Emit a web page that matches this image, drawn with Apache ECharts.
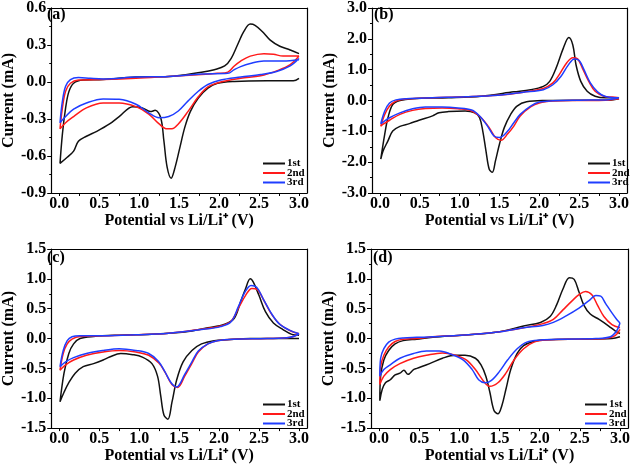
<!DOCTYPE html>
<html><head><meta charset="utf-8">
<script src="https://cdn.jsdelivr.net/npm/echarts@6/dist/echarts.min.js"></script>
<style>html,body{margin:0;padding:0;background:#fff}#c{width:638px;height:465px}</style>
</head><body><div id="c"></div>
<script>
// ---- DATA: [potential V, current mA], cathodic branch (3.0 -> 0.01) then anodic branch (0.01 -> 3.0)
const seriesNames = ['1st', '2nd', '3rd'];
const panelLabels = ['(a)', '(b)', '(c)', '(d)'];
const xTickLabels = [0.0, 0.5, 1.0, 1.5, 2.0, 2.5, 3.0];
const xMinorTicks = [0, 0.25, 0.5, 0.75, 1.0, 1.25, 1.5, 1.75, 2.0, 2.25, 2.5, 2.75, 3.0];
const yRangeA = [-0.9, 0.6, 0.3];
const yRangeB = [-3.0, 3.0, 1.0];
const yRangeC = [-1.5, 1.5, 0.5];
const yRangeD = [-1.5, 1.5, 0.5];

const a1 = [[3.0,0.03],[2.93,0.01],[2.6,0.01],[2.19,0.005],[1.98,-0.01],[1.86,-0.05],[1.74,-0.13],[1.64,-0.24],[1.57,-0.37],[1.51,-0.53],[1.45,-0.69],[1.40,-0.78],[1.35,-0.69],[1.31,-0.48],[1.27,-0.29],[1.20,-0.23],[1.14,-0.24],[1.04,-0.21],[0.92,-0.2],[0.75,-0.28],[0.63,-0.34],[0.47,-0.4],[0.34,-0.44],[0.24,-0.48],[0.18,-0.56],[0.10,-0.61],[0.01,-0.66],
  [0.04,-0.42],[0.08,-0.21],[0.12,-0.08],[0.18,-0.01],[0.30,0.016],[0.55,0.02],[0.96,0.04],[1.37,0.045],[1.78,0.08],[1.94,0.1],[2.07,0.13],[2.15,0.19],[2.23,0.3],[2.31,0.41],[2.39,0.47],[2.45,0.46],[2.54,0.41],[2.64,0.34],[2.76,0.29],[2.89,0.26],[3.0,0.23]];
const a2 = [[3.0,0.21],[2.89,0.14],[2.72,0.09],[2.52,0.05],[2.27,0.03],[2.02,0.0],[1.86,-0.04],[1.74,-0.12],[1.61,-0.24],[1.49,-0.34],[1.41,-0.38],[1.35,-0.38],[1.25,-0.34],[1.12,-0.26],[0.96,-0.2],[0.75,-0.17],[0.55,-0.17],[0.34,-0.21],[0.18,-0.28],[0.08,-0.33],[0.01,-0.38],
  [0.04,-0.21],[0.08,-0.075],[0.14,-0.01],[0.24,0.016],[0.55,0.02],[0.96,0.03],[1.37,0.045],[1.78,0.06],[1.98,0.07],[2.11,0.08],[2.19,0.13],[2.27,0.17],[2.39,0.21],[2.56,0.23],[2.68,0.225],[2.8,0.21],[2.93,0.21],[3.0,0.21]];
const a3 = [[3.0,0.19],[2.89,0.13],[2.72,0.085],[2.52,0.06],[2.27,0.04],[2.02,0.016],[1.86,-0.02],[1.74,-0.075],[1.61,-0.155],[1.49,-0.235],[1.37,-0.28],[1.25,-0.29],[1.12,-0.25],[0.96,-0.18],[0.75,-0.14],[0.55,-0.137],[0.34,-0.17],[0.18,-0.22],[0.08,-0.28],[0.01,-0.33],
  [0.04,-0.155],[0.08,-0.035],[0.14,0.02],[0.24,0.037],[0.39,0.03],[0.55,0.025],[0.96,0.04],[1.37,0.045],[1.78,0.065],[2.11,0.07],[2.19,0.1],[2.27,0.125],[2.39,0.15],[2.56,0.17],[2.8,0.17],[3.0,0.18]];

const b1 = [[3.0,0.06],[2.83,0.01],[2.5,0.01],[2.09,0.0],[1.84,-0.04],[1.72,-0.18],[1.64,-0.45],[1.56,-0.88],[1.5,-1.41],[1.45,-1.95],[1.41,-2.33],[1.37,-2.22],[1.33,-1.63],[1.29,-0.99],[1.25,-0.56],[1.19,-0.4],[1.07,-0.34],[0.86,-0.36],[0.74,-0.4],[0.66,-0.5],[0.49,-0.64],[0.37,-0.75],[0.25,-0.84],[0.16,-0.99],[0.1,-1.31],[0.04,-1.63],[0.01,-1.9],
  [0.06,-1.09],[0.1,-0.56],[0.16,-0.13],[0.25,0.0],[0.41,0.06],[0.86,0.09],[1.27,0.14],[1.68,0.28],[1.89,0.35],[2.05,0.46],[2.13,0.62],[2.21,1.05],[2.3,1.69],[2.37,2.04],[2.42,1.8],[2.46,1.16],[2.52,0.62],[2.6,0.3],[2.7,0.14],[2.83,0.09],[3.0,0.09]];
const b2 = [[3.0,0.06],[2.83,0.01],[2.5,0.0],[2.17,-0.02],[2.0,-0.08],[1.89,-0.21],[1.76,-0.5],[1.68,-0.83],[1.6,-1.09],[1.52,-1.29],[1.45,-1.2],[1.37,-0.88],[1.27,-0.56],[1.15,-0.34],[0.98,-0.27],[0.78,-0.24],[0.57,-0.26],[0.41,-0.32],[0.25,-0.45],[0.12,-0.64],[0.04,-0.77],[0.01,-0.83],
  [0.06,-0.45],[0.12,-0.18],[0.2,-0.02],[0.33,0.05],[0.66,0.09],[1.07,0.12],[1.48,0.17],[1.8,0.27],[2.05,0.39],[2.17,0.57],[2.25,0.84],[2.34,1.21],[2.42,1.39],[2.48,1.35],[2.54,1.05],[2.62,0.62],[2.7,0.3],[2.81,0.14],[2.91,0.11],[3.0,0.09]];
const b3 = [[3.0,0.09],[2.83,0.02],[2.5,0.01],[2.17,-0.01],[2.0,-0.05],[1.89,-0.18],[1.76,-0.45],[1.68,-0.72],[1.6,-1.0],[1.5,-1.2],[1.43,-1.15],[1.35,-0.83],[1.25,-0.5],[1.15,-0.31],[0.98,-0.24],[0.78,-0.21],[0.57,-0.21],[0.41,-0.27],[0.25,-0.4],[0.12,-0.56],[0.04,-0.7],[0.01,-0.75],
  [0.06,-0.34],[0.12,-0.08],[0.2,0.02],[0.33,0.06],[0.66,0.09],[1.07,0.12],[1.48,0.17],[1.8,0.27],[2.05,0.35],[2.17,0.51],[2.27,0.78],[2.36,1.14],[2.44,1.35],[2.5,1.3],[2.56,1.0],[2.64,0.57],[2.73,0.28],[2.83,0.13],[3.0,0.09]];

const c1 = [[3.0,0.0],[2.8,0.0],[2.39,0.0],[2.1,-0.02],[1.94,-0.035],[1.78,-0.09],[1.66,-0.2],[1.55,-0.39],[1.47,-0.69],[1.41,-1.07],[1.36,-1.35],[1.31,-1.28],[1.27,-0.96],[1.23,-0.63],[1.16,-0.42],[1.04,-0.31],[0.92,-0.27],[0.77,-0.25],[0.63,-0.31],[0.55,-0.36],[0.43,-0.42],[0.3,-0.47],[0.2,-0.58],[0.12,-0.74],[0.06,-0.9],[0.01,-1.06],
  [0.06,-0.58],[0.12,-0.25],[0.18,-0.09],[0.26,0.0],[0.43,0.035],[0.75,0.057],[1.16,0.073],[1.57,0.11],[1.86,0.18],[2.07,0.24],[2.19,0.34],[2.27,0.62],[2.33,0.83],[2.39,1.0],[2.43,0.94],[2.5,0.72],[2.58,0.45],[2.68,0.26],[2.8,0.15],[2.91,0.07],[3.0,0.057]];
const c2 = [[3.0,0.08],[2.89,0.02],[2.6,0.0],[2.19,-0.01],[1.98,-0.035],[1.86,-0.09],[1.74,-0.225],[1.66,-0.415],[1.57,-0.63],[1.48,-0.82],[1.41,-0.77],[1.33,-0.58],[1.25,-0.415],[1.12,-0.28],[0.96,-0.225],[0.75,-0.2],[0.55,-0.225],[0.34,-0.28],[0.18,-0.36],[0.08,-0.44],[0.01,-0.53],
  [0.05,-0.25],[0.1,-0.09],[0.16,-0.01],[0.26,0.035],[0.55,0.046],[0.96,0.062],[1.37,0.09],[1.78,0.155],[2.02,0.21],[2.15,0.29],[2.25,0.53],[2.33,0.72],[2.41,0.84],[2.48,0.82],[2.56,0.64],[2.66,0.4],[2.76,0.24],[2.89,0.13],[3.0,0.08]];
const c3 = [[3.0,0.08],[2.89,0.02],[2.6,0.0],[2.19,-0.01],[1.98,-0.035],[1.86,-0.09],[1.74,-0.21],[1.66,-0.39],[1.57,-0.6],[1.47,-0.81],[1.4,-0.74],[1.32,-0.55],[1.24,-0.38],[1.12,-0.25],[0.96,-0.2],[0.75,-0.17],[0.55,-0.2],[0.34,-0.25],[0.18,-0.32],[0.08,-0.39],[0.01,-0.47],
  [0.05,-0.2],[0.1,-0.035],[0.16,0.03],[0.26,0.046],[0.55,0.046],[0.96,0.062],[1.37,0.09],[1.78,0.15],[2.02,0.2],[2.15,0.28],[2.24,0.53],[2.32,0.77],[2.4,0.89],[2.47,0.86],[2.55,0.67],[2.65,0.43],[2.75,0.25],[2.88,0.14],[3.0,0.08]];

const d1 = [[3.0,0.03],[2.9,0.0],[2.49,-0.01],[2.09,-0.02],[1.93,-0.045],[1.8,-0.12],[1.72,-0.25],[1.64,-0.52],[1.58,-0.85],[1.53,-1.12],[1.48,-1.26],[1.43,-1.2],[1.38,-0.9],[1.33,-0.63],[1.27,-0.44],[1.2,-0.33],[1.07,-0.28],[0.95,-0.28],[0.79,-0.33],[0.63,-0.42],[0.47,-0.5],[0.43,-0.52],[0.36,-0.6],[0.31,-0.53],[0.26,-0.58],[0.2,-0.61],[0.14,-0.69],[0.08,-0.74],[0.04,-0.85],[0.01,-1.04],
  [0.02,-0.63],[0.06,-0.36],[0.12,-0.2],[0.2,-0.09],[0.3,-0.035],[0.47,-0.01],[0.67,0.02],[1.07,0.06],[1.48,0.11],[1.8,0.21],[2.01,0.27],[2.13,0.37],[2.21,0.56],[2.29,0.83],[2.37,1.02],[2.43,0.99],[2.49,0.78],[2.55,0.56],[2.63,0.41],[2.74,0.32],[2.86,0.21],[2.94,0.13],[3.0,0.085]];
const d2 = [[3.0,0.155],[2.94,0.05],[2.82,0.0],[2.49,-0.01],[2.09,-0.025],[1.93,-0.06],[1.8,-0.17],[1.68,-0.36],[1.58,-0.58],[1.48,-0.74],[1.38,-0.8],[1.3,-0.71],[1.2,-0.52],[1.09,-0.36],[0.95,-0.28],[0.79,-0.24],[0.59,-0.28],[0.43,-0.33],[0.26,-0.42],[0.14,-0.52],[0.06,-0.63],[0.01,-0.77],
  [0.02,-0.47],[0.06,-0.28],[0.12,-0.14],[0.2,-0.05],[0.3,-0.01],[0.47,0.0],[0.67,0.03],[1.07,0.06],[1.48,0.11],[1.8,0.18],[2.04,0.25],[2.17,0.32],[2.29,0.48],[2.41,0.64],[2.49,0.735],[2.57,0.79],[2.65,0.735],[2.72,0.56],[2.8,0.37],[2.9,0.235],[3.0,0.18]];
const d3 = [[3.0,0.26],[2.96,0.13],[2.88,0.03],[2.7,0.0],[2.29,-0.01],[2.01,-0.025],[1.84,-0.06],[1.72,-0.17],[1.6,-0.36],[1.5,-0.55],[1.4,-0.7],[1.32,-0.74],[1.24,-0.69],[1.16,-0.52],[1.05,-0.36],[0.91,-0.27],[0.75,-0.21],[0.59,-0.21],[0.43,-0.25],[0.26,-0.33],[0.14,-0.44],[0.06,-0.52],[0.01,-0.63],
  [0.02,-0.33],[0.06,-0.17],[0.12,-0.06],[0.2,-0.01],[0.3,0.01],[0.47,0.02],[0.67,0.03],[1.07,0.06],[1.48,0.11],[1.8,0.18],[2.04,0.22],[2.17,0.27],[2.33,0.38],[2.49,0.51],[2.61,0.63],[2.7,0.72],[2.76,0.71],[2.82,0.59],[2.9,0.43],[2.96,0.32],[3.0,0.26]];

// ---- STYLE / LAYOUT
const FONT = '"Liberation Serif","Times New Roman",serif';
const colors = ['#111111', '#ff1a1a', '#1f3dff'];
const grids = [
  {left: 45, top: 6, width: 262, height: 187},
  {left: 372, top: 6, width: 255, height: 187},
  {left: 45, top: 249, width: 262, height: 184},
  {left: 371, top: 249, width: 257, height: 184}
];
const panels = [[a1,a2,a3],[b1,b2,b3],[c1,c2,c3],[d1,d2,d3]];
const yRanges = [yRangeA, yRangeB, yRangeC, yRangeD];
const legendPos = [[263,158],[588,158],[263,399],[585,399]];
const axisLineStyle = {color: '#000', width: 1.2};
const labelText = {fontFamily: FONT, fontWeight: 'bold', fontSize: 16, color: '#000'};

const xAxes = [], yAxes = [];
grids.forEach((g, i) => {
  xAxes.push({
    type: 'value', gridIndex: i, min: -0.1, max: 3.1, position: 'bottom',
    name: 'Potential vs Li/Li\u207A (V)', nameLocation: 'middle', nameGap: 13,
    nameTextStyle: labelText,
    axisLine: {show: true, onZero: false, lineStyle: axisLineStyle},
    axisTick: {show: true, inside: false, length: 3, customValues: xMinorTicks, lineStyle: {color: '#000', width: 1}},
    axisLabel: Object.assign({customValues: xTickLabels, margin: 3, formatter: v => v.toFixed(1)}, labelText),
    splitLine: {show: false}
  });
  xAxes.push({
    type: 'value', gridIndex: i, min: -0.1, max: 3.1, position: 'top',
    axisLine: {show: true, onZero: false, lineStyle: axisLineStyle},
    axisTick: {show: false}, axisLabel: {show: false}, splitLine: {show: false}
  });
  yAxes.push({
    type: 'value', gridIndex: i, min: yRanges[i][0], max: yRanges[i][1], interval: yRanges[i][2], position: 'left',
    name: 'Current (mA)', nameLocation: 'middle', nameGap: 28, nameRotate: 90,
    nameTextStyle: labelText,
    axisLine: {show: true, onZero: false, lineStyle: axisLineStyle},
    axisTick: {show: true, inside: false, length: 4, lineStyle: {color: '#000', width: 1}},
    minorTick: {show: true, splitNumber: 2, length: 2, lineStyle: {color: '#000', width: 1}},
    axisLabel: Object.assign({margin: 5, formatter: v => v.toFixed(1)}, labelText),
    splitLine: {show: false}
  });
  yAxes.push({
    type: 'value', gridIndex: i, min: yRanges[i][0], max: yRanges[i][1], position: 'right',
    axisLine: {show: true, onZero: false, lineStyle: axisLineStyle},
    axisTick: {show: false}, axisLabel: {show: false}, splitLine: {show: false}
  });
});

const option = {
  animation: false,
  backgroundColor: '#fff',
  grid: grids,
  title: panelLabels.map((t, i) => ({
    text: t, left: grids[i].left + 2, top: grids[i].top + 1, padding: 0,
    textStyle: labelText
  })),
  xAxis: xAxes,
  yAxis: yAxes,
  legend: legendPos.map(p => ({
    data: seriesNames, orient: 'vertical', left: p[0], top: p[1], padding: 0,
    itemGap: -1.5, itemWidth: 22, itemHeight: 2, icon: 'rect', selectedMode: false,
    textStyle: {fontFamily: FONT, fontWeight: 'bold', fontSize: 11, color: '#000', padding: [0,0,0,-3]}
  })),
  series: []
};
panels.forEach((set, pi) => {
  set.forEach((data, si) => {
    option.series.push({
      name: seriesNames[si], type: 'line', xAxisIndex: pi * 2, yAxisIndex: pi * 2,
      data: data, showSymbol: false, symbol: 'none', smooth: 0.35,
      lineStyle: {color: colors[si], width: 1.5}, itemStyle: {color: colors[si]},
      z: 2 + si
    });
  });
});
const chart = echarts.init(document.getElementById('c'), null, {renderer: 'canvas'});
chart.setOption(option);
</script></body></html>
